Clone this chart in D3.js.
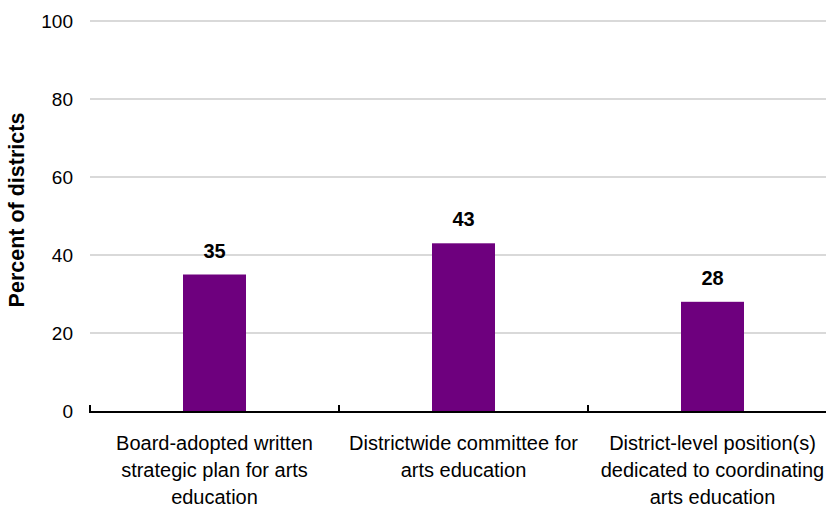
<!DOCTYPE html>
<html>
<head>
<meta charset="utf-8">
<script src="https://cdn.jsdelivr.net/npm/d3@7"></script>
<style>
  body { margin: 0; background: #fff; }
  svg { display: block; font-family: "Liberation Sans", Arial, sans-serif; }
</style>
</head>
<body>
<script>
// Data
const categories = [
  ["Board-adopted written", "strategic plan for arts", "education"],
  ["Districtwide committee for", "arts education"],
  ["District-level position(s)", "dedicated to coordinating", "arts education"]
];
const values = [35, 43, 28];
const yTicks = [0, 20, 40, 60, 80, 100];

const w = 826;
const h = 508;
const padLeft = 90, padRight = 837, padTop = 21, padBottom = 411;

const svg = d3.select("body").append("svg")
    .attr("width", w)
    .attr("height", h);

const xScale = d3.scaleBand()
    .domain(d3.range(values.length))
    .range([padLeft, padRight])
    .paddingInner(0)
    .paddingOuter(0);

const yScale = d3.scaleLinear()
    .domain([0, 100])
    .range([padBottom, padTop]);

// Gridlines
svg.append("g")
    .selectAll("line")
    .data(yTicks.filter(d => d > 0))
    .enter()
    .append("line")
    .attr("x1", padLeft)
    .attr("x2", w)
    .attr("y1", d => yScale(d))
    .attr("y2", d => yScale(d))
    .attr("stroke", "#d9d9d9")
    .attr("stroke-width", 2);

// Y tick labels
const yAxis = d3.axisLeft(yScale).tickValues(yTicks).tickSize(0).tickPadding(17);
const gy = svg.append("g")
    .attr("transform", "translate(" + padLeft + ",0)")
    .call(yAxis);
gy.select(".domain").remove();
gy.selectAll("text")
    .attr("font-size", "19px")
    .attr("font-family", "Liberation Sans, Arial, sans-serif")
    .attr("fill", "#000");

// Y title
svg.append("text")
    .attr("transform", "translate(24,210) rotate(-90)")
    .attr("text-anchor", "middle")
    .attr("font-size", "21.5px")
    .attr("font-weight", "bold")
    .attr("fill", "#000")
    .text("Percent of districts");

// Bars
const barW = 63;
svg.selectAll("rect.bar")
    .data(values)
    .enter()
    .append("rect")
    .attr("class", "bar")
    .attr("x", (d, i) => xScale(i) + xScale.bandwidth() / 2 - barW / 2)
    .attr("y", d => yScale(d))
    .attr("width", barW)
    .attr("height", d => padBottom - yScale(d))
    .attr("fill", "#6e007e");

// Value labels
svg.selectAll("text.val")
    .data(values)
    .enter()
    .append("text")
    .attr("class", "val")
    .attr("x", (d, i) => xScale(i) + xScale.bandwidth() / 2)
    .attr("y", d => yScale(d) - 17)
    .attr("text-anchor", "middle")
    .attr("font-size", "20px")
    .attr("font-weight", "bold")
    .attr("fill", "#000")
    .text(d => d);

// X axis line and ticks
svg.append("line")
    .attr("x1", padLeft)
    .attr("x2", w)
    .attr("y1", padBottom + 1)
    .attr("y2", padBottom + 1)
    .attr("stroke", "#000")
    .attr("stroke-width", 2);

svg.append("g")
    .selectAll("line")
    .data(d3.range(values.length + 1))
    .enter()
    .append("line")
    .attr("x1", i => i < values.length ? xScale(i) : padRight)
    .attr("x2", i => i < values.length ? xScale(i) : padRight)
    .attr("y1", padBottom - 6)
    .attr("y2", padBottom + 2)
    .attr("stroke", "#000")
    .attr("stroke-width", 2);

// Category labels
const labels = svg.selectAll("text.cat")
    .data(categories)
    .enter()
    .append("text")
    .attr("class", "cat")
    .attr("text-anchor", "middle")
    .attr("font-size", "20px")
    .attr("fill", "#000");

labels.selectAll("tspan")
    .data((d, i) => d.map(t => ({ t: t, i: i })))
    .enter()
    .append("tspan")
    .attr("x", d => xScale(d.i) + xScale.bandwidth() / 2)
    .attr("y", (d, j) => 450 + j * 27)
    .text(d => d.t);
</script>
</body>
</html>
